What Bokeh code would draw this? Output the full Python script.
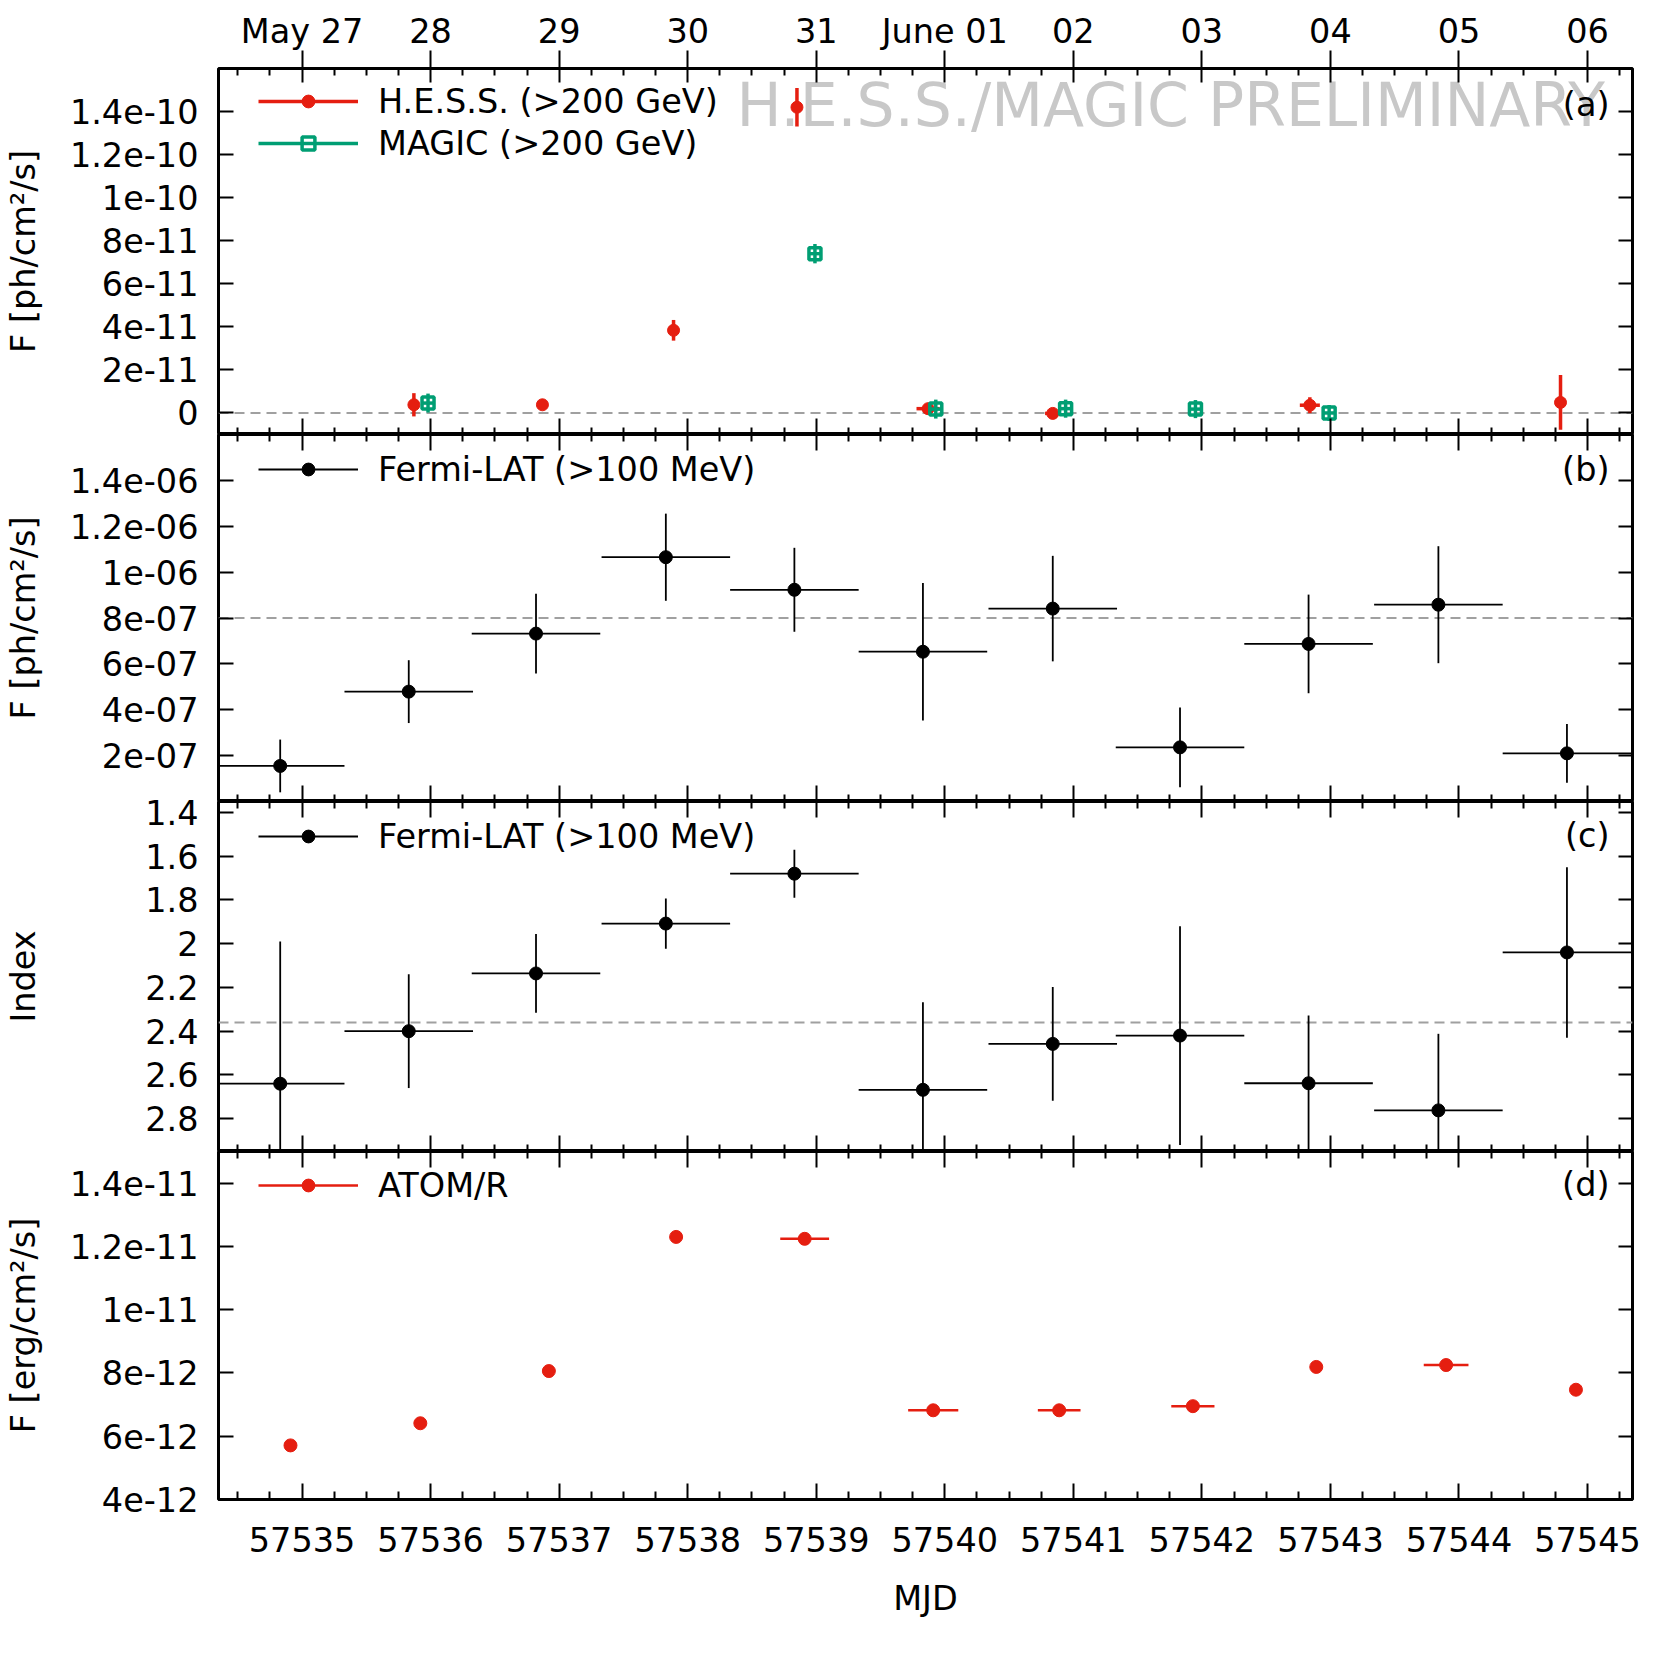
import numpy as np
from bokeh.plotting import figure
from bokeh.models import (Range1d, FixedTicker, LinearAxis, Span, Label, Legend, LegendItem,
                          ColumnDataSource, CustomJSTickFormatter)
from bokeh.layouts import column
from bokeh.embed import file_html
from bokeh.resources import INLINE

# ---------------- data ----------------
date_ticks = [57535, 57536, 57537, 57538, 57539, 57540, 57541, 57542, 57543, 57544, 57545]
date_labels = ["May 27", "28", "29", "30", "31", "June 01", "02", "03", "04", "05", "06"]
mjd_labels = ["57535", "57536", "57537", "57538", "57539", "57540", "57541", "57542", "57543", "57544", "57545"]

# (a) H.E.S.S. and MAGIC (>200 GeV)
hess_mjd = [57535.87, 57536.87, 57537.89, 57538.85, 57539.87, 57540.84, 57542.84, 57544.79]
hess_flux = [3.8e-12, 3.8e-12, 3.84e-11, 1.42e-10, 2.0e-12, -0.2e-12, 3.6e-12, 4.9e-12]
hess_err = [5.4e-12, 2.5e-12, 4.8e-12, 8.9e-12, 1.5e-12, 2.0e-12, 3.7e-12, 1.27e-11]
hess_xerr = [0.0, 0.0, 0.0, 0.0, 0.09, 0.06, 0.078, 0.0]

magic_mjd = [57535.98, 57538.99, 57539.93, 57540.94, 57541.95, 57542.99]
magic_flux = [4.6e-12, 7.40e-11, 1.8e-12, 2.0e-12, 1.8e-12, 0.0]
magic_err = [4.4e-12, 4.5e-12, 4.4e-12, 4.2e-12, 4.2e-12, 3.7e-12]
magic_xerr = [0.05, 0.05, 0.05, 0.05, 0.05, 0.05]

# (b) Fermi-LAT flux (>100 MeV)
fermi_mjd = [57534.83, 57535.83, 57536.82, 57537.83, 57538.83, 57539.83,
             57540.84, 57541.83, 57542.83, 57543.84, 57544.84]
fermi_flux = [1.55e-7, 4.79e-7, 7.32e-7, 1.065e-6, 9.23e-7, 6.53e-7,
              8.41e-7, 2.36e-7, 6.87e-7, 8.58e-7, 2.1e-7]
fermi_flux_err = [1.15e-7, 1.37e-7, 1.74e-7, 1.9e-7, 1.83e-7, 3.0e-7,
                  2.3e-7, 1.74e-7, 2.15e-7, 2.55e-7, 1.28e-7]
fermi_xerr = [0.5] * 11

# (c) Fermi-LAT photon index
fermi_index = [2.64, 2.40, 2.136, 1.908, 1.68, 2.668, 2.458, 2.42, 2.638, 2.762, 2.04]
fermi_index_err = [0.65, 0.26, 0.18, 0.115, 0.11, 0.40, 0.26, 0.50, 0.31, 0.35, 0.39]

# (d) ATOM R band
atom_mjd = [57534.91, 57535.92, 57536.92, 57537.91, 57538.91, 57539.91,
            57540.89, 57541.93, 57542.89, 57543.90, 57544.91]
atom_flux = [5.71e-12, 6.41e-12, 8.06e-12, 1.230e-11, 1.224e-11, 6.82e-12,
             6.82e-12, 6.95e-12, 8.19e-12, 8.25e-12, 7.47e-12]
atom_err = [0.0] * 11
atom_xerr = [0.0, 0.0, 0.0, 0.0, 0.19, 0.195, 0.166, 0.168, 0.0, 0.174, 0.0]

# y ticks and labels
a_ticks = [0, 2e-11, 4e-11, 6e-11, 8e-11, 1e-10, 1.2e-10, 1.4e-10]
a_labels = ["0", "2e-11", "4e-11", "6e-11", "8e-11", "1e-10", "1.2e-10", "1.4e-10"]
b_ticks = [2e-7, 4e-7, 6e-7, 8e-7, 1e-6, 1.2e-6, 1.4e-6]
b_labels = ["2e-07", "4e-07", "6e-07", "8e-07", "1e-06", "1.2e-06", "1.4e-06"]
c_ticks = [1.4, 1.6, 1.8, 2.0, 2.2, 2.4, 2.6, 2.8]
c_labels = ["1.4", "1.6", "1.8", "2", "2.2", "2.4", "2.6", "2.8"]
d_ticks = [4e-12, 6e-12, 8e-12, 1e-11, 1.2e-11, 1.4e-11]
d_labels = ["4e-12", "6e-12", "8e-12", "1e-11", "1.2e-11", "1.4e-11"]

hess_ref, fermi_flux_ref, fermi_index_ref = 0.0, 8e-7, 2.36

# ---------------- style ----------------
FONT = "DejaVu Sans"
FS = "33.5px"
RED = "#e51e10"
GREEN = "#009e73"
GRAY = "#a0a0a0"
FRAME_W = 1414
LEFT, RIGHT = 218, 35
minor_ticks = [t + f for t in range(57534, 57546) for f in (0.25, 0.5, 0.75)
               if 57534.35 < t + f < 57545.35]


def fmt(vals, labs):
    return CustomJSTickFormatter(args=dict(vals=list(map(float, vals)), labs=list(labs)), code="""
        for (let i = 0; i < vals.length; i++) {
            if (Math.abs(vals[i] - tick) <= 1e-6 * Math.abs(vals[i]) + 1e-300) return labs[i];
        }
        return "";
    """)


def hide_labels(ax):
    ax.major_label_text_font_size = "0px"
    ax.major_label_text_color = None
    ax.major_label_standoff = 0
    ax.axis_label = None


def style_ticks(ax, major_in, major_out, minor_in, minor_out=0):
    ax.axis_line_color = None
    ax.major_tick_in = major_in
    ax.major_tick_out = major_out
    ax.minor_tick_in = minor_in
    ax.minor_tick_out = minor_out
    ax.major_tick_line_color = "black"
    ax.minor_tick_line_color = "black"
    ax.major_tick_line_width = 2
    ax.minor_tick_line_width = 2


def base_fig(frame_h, y_range, top=0, bottom=0):
    p = figure(frame_width=FRAME_W, frame_height=frame_h,
               x_range=Range1d(57534.35, 57545.35), y_range=y_range,
               output_backend="svg", toolbar_location=None,
               x_axis_location=None, y_axis_location=None,
               min_border=0, min_border_left=LEFT, min_border_right=RIGHT,
               min_border_top=top, min_border_bottom=bottom)
    p.grid.visible = False
    p.outline_line_color = "black"
    p.outline_line_width = 3
    p.background_fill_color = "white"
    p.border_fill_color = "white"
    return p


def x_axis(p, place, major_in, major_out, minor_in, labels=None, standoff=0,
           axis_label=None, axis_label_standoff=0):
    ax = LinearAxis(ticker=FixedTicker(ticks=date_ticks, minor_ticks=minor_ticks))
    style_ticks(ax, major_in, major_out, minor_in)
    if labels is None:
        hide_labels(ax)
    else:
        ax.formatter = fmt(date_ticks, labels)
        ax.major_label_text_font = FONT
        ax.major_label_text_font_size = FS
        ax.major_label_text_color = "black"
        ax.major_label_standoff = standoff
        if axis_label:
            ax.axis_label = axis_label
            ax.axis_label_text_font = FONT
            ax.axis_label_text_font_size = FS
            ax.axis_label_text_font_style = "normal"
            ax.axis_label_text_color = "black"
            ax.axis_label_standoff = axis_label_standoff
    p.add_layout(ax, place)


def y_axes(p, ticks, labels, ylabel, label_standoff):
    left = LinearAxis(ticker=FixedTicker(ticks=ticks, minor_ticks=[]), formatter=fmt(ticks, labels))
    style_ticks(left, 15, 0, 0)
    left.major_label_text_font = FONT
    left.major_label_text_font_size = FS
    left.major_label_text_color = "black"
    left.major_label_standoff = 20
    left.axis_label = ylabel
    left.axis_label_text_font = FONT
    left.axis_label_text_font_size = FS
    left.axis_label_text_font_style = "normal"
    left.axis_label_text_color = "black"
    left.axis_label_standoff = label_standoff
    p.add_layout(left, "left")
    right = LinearAxis(ticker=FixedTicker(ticks=ticks, minor_ticks=[]))
    style_ticks(right, 14, 0, 0)
    hide_labels(right)
    p.add_layout(right, "right")


def err_source(x, y, yerr, xerr):
    x, y = np.asarray(x, float), np.asarray(y, float)
    yerr, xerr = np.asarray(yerr, float), np.asarray(xerr, float)
    return ColumnDataSource(dict(
        x0=np.concatenate([x, x - xerr]), x1=np.concatenate([x, x + xerr]),
        y0=np.concatenate([y - yerr, y]), y1=np.concatenate([y + yerr, y])))


def add_legend(p, items, frame_h, center_from_top=35):
    n = len(items)
    item_h, gap = 37, 3
    total = n * item_h + (n - 1) * gap
    top = center_from_top - item_h / 2
    lg = Legend(items=items, location=(40, frame_h - top - total),
                glyph_width=100, glyph_height=32, label_standoff=20,
                padding=0, margin=0, spacing=gap, border_line_color=None,
                background_fill_alpha=0, label_text_font=FONT, label_text_font_size=FS,
                label_text_color="black", label_text_baseline="middle", label_height=32)
    p.add_layout(lg)


def panel_label(p, text, frame_h, base_from_top):
    p.add_layout(Label(x=1391, y=frame_h - base_from_top, x_units="screen", y_units="screen",
                       text=text, text_font=FONT, text_font_size=FS, text_align="right",
                       text_baseline="alphabetic", text_color="black"))


def ref_line(p, loc):
    p.add_layout(Span(location=loc, dimension="width", line_color=GRAY, line_width=2,
                      line_dash="10 6", level="underlay"))


# ---------------- panel (a) ----------------
HA, HB, HC, HD = 366, 367, 350, 348
pa = base_fig(HA, Range1d(-1e-11, 1.6e-10), top=68)
x_axis(pa, "above", 14, 18, 7, labels=date_labels, standoff=0)
x_axis(pa, "below", 16, 0, 7)
y_axes(pa, a_ticks, a_labels, "F [ph/cm²/s]", 24)
ref_line(pa, hess_ref)
pa.add_layout(Label(x=518, y=HA - 36, x_units="screen", y_units="screen",
                    text="H.E.S.S./MAGIC PRELIMINARY", text_font=FONT, text_font_size="60px",
                    text_color="#c8c8c8", text_baseline="alphabetic", level="underlay"))
h_err = pa.segment("x0", "y0", "x1", "y1", source=err_source(hess_mjd, hess_flux, hess_err, hess_xerr),
                   line_color=RED, line_width=3.5)
h_pts = pa.scatter(hess_mjd, hess_flux, marker="circle", size=12, color=RED)
m_err = pa.segment("x0", "y0", "x1", "y1", source=err_source(magic_mjd, magic_flux, magic_err, magic_xerr),
                   line_color=GREEN, line_width=3.5)
m_pts = pa.scatter(magic_mjd, magic_flux, marker="square", size=12, line_color=GREEN,
                   line_width=3.5, fill_color=None)
add_legend(pa, [LegendItem(label="H.E.S.S. (>200 GeV)", renderers=[h_err, h_pts]),
                LegendItem(label="MAGIC (>200 GeV)", renderers=[m_err, m_pts])], HA, 36)
panel_label(pa, "(a)", HA, 36)

# ---------------- panel (b) ----------------
pb = base_fig(HB, Range1d(0, 1.6e-6))
x_axis(pb, "above", 16, 0, 7)
x_axis(pb, "below", 16, 0, 7)
y_axes(pb, b_ticks, b_labels, "F [ph/cm²/s]", 24)
ref_line(pb, fermi_flux_ref)
f_err = pb.segment("x0", "y0", "x1", "y1", source=err_source(fermi_mjd, fermi_flux, fermi_flux_err, fermi_xerr),
                   line_color="black", line_width=1.8)
f_pts = pb.scatter(fermi_mjd, fermi_flux, marker="circle", size=13, color="black")
add_legend(pb, [LegendItem(label="Fermi-LAT (>100 MeV)", renderers=[f_err, f_pts])], HB, 36)
panel_label(pb, "(b)", HB, 35)

# ---------------- panel (c) ----------------
# a transparent 14 px strip above the frame overlaps panel (b) so that the
# top tick label "1.4" is not clipped by the canvas edge
OVER = 14
pc = base_fig(HC, Range1d(2.95, 1.35), top=OVER)
pc.border_fill_alpha = 0
pc.margin = (-OVER, 0, 0, 0)
x_axis(pc, "above", 16, 0, 7)
x_axis(pc, "below", 16, 0, 7)
y_axes(pc, c_ticks, c_labels, "Index", 99)
ref_line(pc, fermi_index_ref)
i_err = pc.segment("x0", "y0", "x1", "y1", source=err_source(fermi_mjd, fermi_index, fermi_index_err, fermi_xerr),
                   line_color="black", line_width=1.8)
i_pts = pc.scatter(fermi_mjd, fermi_index, marker="circle", size=13, color="black")
add_legend(pc, [LegendItem(label="Fermi-LAT (>100 MeV)", renderers=[i_err, i_pts])], HC, 36)
panel_label(pc, "(c)", HC, 34)

# ---------------- panel (d) ----------------
pd_ = base_fig(HD, Range1d(4e-12, 1.5e-11), bottom=168)
x_axis(pd_, "above", 16, 0, 7)
x_axis(pd_, "below", 16, 0, 8, labels=mjd_labels, standoff=27, axis_label="MJD", axis_label_standoff=24)
y_axes(pd_, d_ticks, d_labels, "F [erg/cm²/s]", 24)
a_err = pd_.segment("x0", "y0", "x1", "y1", source=err_source(atom_mjd, atom_flux, atom_err, atom_xerr),
                    line_color=RED, line_width=2.5)
a_pts = pd_.scatter(atom_mjd, atom_flux, marker="circle", size=13, color=RED)
add_legend(pd_, [LegendItem(label="ATOM/R", renderers=[a_err, a_pts])], HD, 35)
panel_label(pd_, "(d)", HD, 33)

p = column(pa, pb, pc, pd_, spacing=0)
open("out.html", "w").write(file_html(p, INLINE))
